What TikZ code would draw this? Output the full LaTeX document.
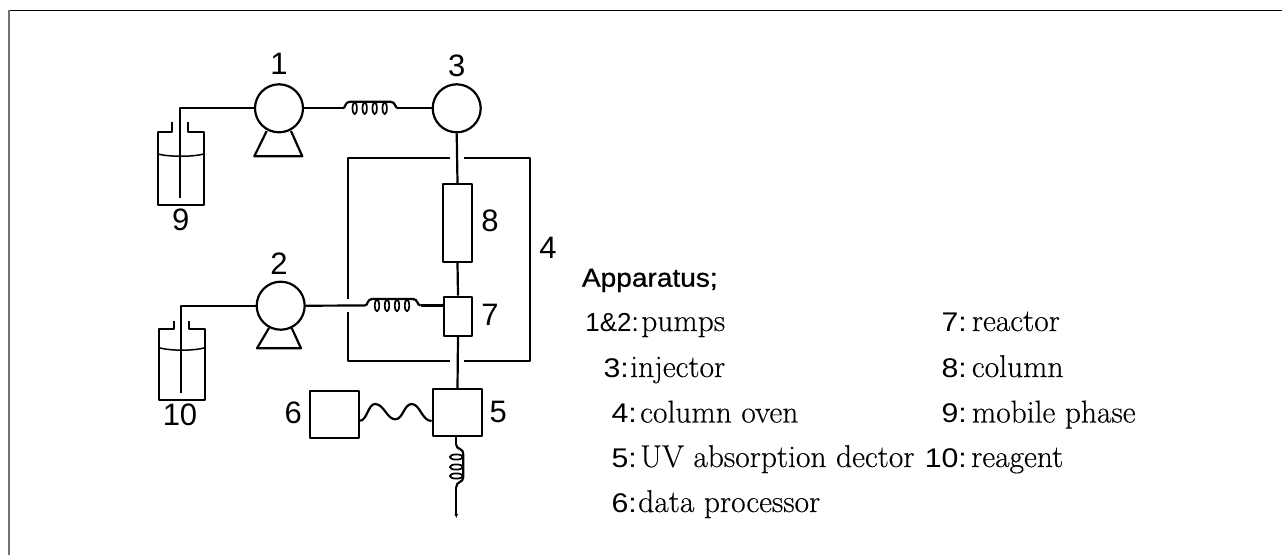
\documentclass[tikz,border=0pt]{standalone}
\usepackage{fontspec}
\usetikzlibrary{arrows.meta}
\newfontfamily\headf[FakeBold=0.8,FakeStretch=1.08]{Liberation Sans}
\newfontfamily\digf{Liberation Sans}
\newfontfamily\numf[FakeStretch=1.12]{Liberation Sans}
\newfontfamily\descf[FakeBold=0.3]{Latin Modern Roman}
\tikzset{
  x=1pt,y=-1pt,
  ln/.style={draw=black,line width=2.2pt,line join=round},
  pumpc/.style={ln,circle,minimum size=48pt,inner sep=0pt,fill=white},
  boxn/.style={ln,rectangle,inner sep=0pt,fill=white},
  lab/.style={font=\digf\fontsize{31}{31}\selectfont,inner sep=0pt},
  head/.style={font=\headf\fontsize{26}{26}\selectfont,inner sep=0pt,anchor=base west},
  num/.style={font=\numf\fontsize{27}{27}\selectfont,inner sep=0pt,anchor=base east},
  desc/.style={font=\descf\fontsize{31.5}{31.5}\selectfont,inner sep=0pt,anchor=base west},
  hcoil/.pic={
    \draw[ln] (0,0) .. controls (3,0) and (2,-6.5) .. (7,-6.5) -- (48,-6.5) .. controls (53,-6.5) and (52,0) .. (55.6,0);
    \foreach \q in {12,22,32,42} \draw[ln,line width=1.7pt] (\q,0) ellipse[x radius=2.2,y radius=5.8];
  },
  vcoil/.pic={
    \draw[ln] (0,0) .. controls (0,5) and (7,2) .. (7,10) -- (7,32) .. controls (7,38) and (0,36) .. (0,42);
    \foreach \q in {12,22,31} \draw[ln,line width=1.7pt] (0,\q) ellipse[x radius=6.5,y radius=2.6];
  },
}
\begin{document}
\begin{tikzpicture}
\useasboundingbox (0,0) rectangle (1282,555);
% frame
\draw[line width=1.5pt,black] (8,10.3) -- (1282,10.3);
\draw[line width=2pt,black!55] (9,10) -- (9,555);
% oven
\draw[ln] (450,158.3) -- (347.7,158.3) -- (347.7,299.3);
\draw[ln] (347.7,311.7) -- (347.7,361) -- (450,361);
\draw[ln] (464,361) -- (530,361) -- (530,158.3) -- (463.5,158.3);
% pumps and injector
\node[pumpc] (p1) at (279,108.3) {};
\node[pumpc] (inj) at (456.7,108.3) {};
\node[pumpc] (p2) at (280.7,305.7) {};
\draw[ln] (266.7,131) -- (254.3,156.3) -- (302.3,156.3) -- (291,131);
\draw[ln] (269,328) -- (257,348.3) -- (301,348.3) -- (291.7,328);
% column, reactor, detector, processor
\node[boxn,minimum width=29.3pt,minimum height=78pt] (col) at (457.5,223) {};
\node[boxn,minimum width=28.6pt,minimum height=39pt] (rea) at (458,316.2) {};
\node[boxn,minimum width=49.6pt,minimum height=47pt] (det) at (457.5,412.8) {};
\node[boxn,minimum width=48.7pt,minimum height=47.3pt] (proc) at (334.6,414.3) {};
% bottles
\draw[ln] (172.3,121.7) -- (172.3,131.7) -- (157.7,131.7) -- (157.7,205.3) -- (204,205.3) -- (204,131.7) -- (188,131.7) -- (188,121.7);
\draw[ln,line width=1.5pt] (157.7,154) .. controls (170,157) and (192,157) .. (204,154);
\draw[ln] (173.7,320.7) -- (173.7,329.3) -- (158.7,329.3) -- (158.7,400) -- (205.3,400) -- (205.3,329.3) -- (189.3,329.3) -- (189.3,320.7);
\draw[ln,line width=1.5pt] (158.7,347.7) .. controls (171,351) and (193,351) .. (205.3,347.7);
% tube ends
\coordinate (t9) at (180,198);
\coordinate (t10) at (181,392.7);
\draw[ln] (t9) -- (t9|-p1.west) -- (p1.west);
\draw[ln] (t10) -- (t10|-p2.west) -- (p2.west);
% coils
\coordinate (c1a) at (342.7,108.3);
\coordinate (c1b) at (398.3,108.3);
\coordinate (c2a) at (365,305.5);
\coordinate (c2b) at (420.6,305.5);
\coordinate (c3a) at (456.3,445);
\coordinate (c3b) at (456.3,487);
\coordinate (drain) at (456.3,518);
\draw[ln] (p1.east) -- (c1a);
\pic at (c1a) {hcoil};
\draw[ln] (c1b) -- (inj.west);
\draw[ln] (p2.east) -- (c2a);
\pic at (c2a) {hcoil};
\draw[ln] (c2b) -- (c2b-|rea.west);
\draw[ln] (inj.south) -- (col.north);
\draw[ln] (col.south) -- (rea.north);
\draw[ln] (rea.south) -- (det.north);
\draw[ln] (det.south-|c3a) -- (c3a);
\pic at (c3a) {vcoil};
\draw[ln,-{Latex[length=4pt,width=4pt]}] (c3b) -- (drain);
\draw[ln] (proc.east|-0,420.7) .. controls (367,420.7) and (368,404) .. (375,404)
  .. controls (384,404) and (387,419.3) .. (395.3,419.3)
  .. controls (403,419.3) and (404,404) .. (411.7,404)
  .. controls (420,404) and (422,421) .. (det.west|-0,421);
% labels
\node[lab] (l1) at (279,64) {1};
\node[lab] (l3) at (456.7,66) {3};
\node[lab] (l2) at (279,263.3) {2};
\node[lab] (l9) at (180.7,220) {9};
\node[lab] (l10) at (180,415) {10};
\node[lab] (l8) at (490,221) {8};
\node[lab] (l7) at (490,315) {7};
\node[lab] (l4) at (548,248) {4};
\node[lab] (l5) at (498.3,411.7) {5};
\node[lab] (l6) at (293.3,413.3) {6};
% legend
\node[head] (h) at (581.7,286.7) {Apparatus;};
\node[num,font=\digf\fontsize{26}{26}\selectfont] (n12) at (639,331) {1\&2:};
\node[desc] (d12) at (641,331) {pumps};
\node[num] (n3) at (629,377) {3:};
\node[desc] (d3) at (630,377) {injector};
\node[num] (n4) at (637,422.5) {4:};
\node[desc] (d4) at (640,422.5) {column oven};
\node[num] (n5) at (637,467) {5:};
\node[desc] (d5) at (640,467) {UV absorption dector};
\node[num] (n6) at (637,512) {6:};
\node[desc] (d6) at (638,512) {data processor};
\node[num] (n7) at (967,331) {7:};
\node[desc] (d7) at (971.7,331) {reactor};
\node[num] (n8) at (967,377) {8:};
\node[desc] (d8) at (971.7,377) {column};
\node[num] (n9) at (967,422.5) {9:};
\node[desc] (d9) at (971.7,422.5) {mobile phase};
\node[num] (n10) at (967,467) {10:};
\node[desc] (d10) at (971,467) {reagent};
\end{tikzpicture}
\end{document}
